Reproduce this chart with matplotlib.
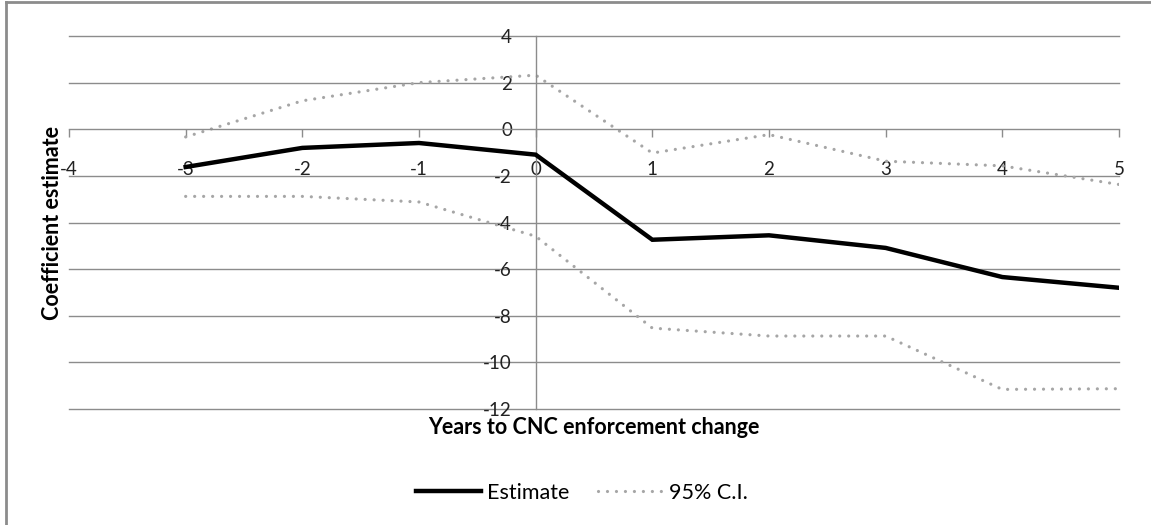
import matplotlib.pyplot as plt
from matplotlib.lines import Line2D

plt.rcParams['font.family'] = ['Lato', 'DejaVu Sans']
plt.rcParams['axes.unicode_minus'] = False

years = [-3, -2, -1, 0, 1, 2, 3, 4, 5]
estimate = [-1.62, -0.80, -0.59, -1.09, -4.74, -4.55, -5.09, -6.34, -6.80]
ci_upper = [-0.33, 1.22, 2.00, 2.32, -1.02, -0.23, -1.37, -1.57, -2.37]
ci_lower = [-2.88, -2.88, -3.12, -4.59, -8.53, -8.87, -8.87, -11.16, -11.13]

x_ticks = [-4, -3, -2, -1, 0, 1, 2, 3, 4, 5]
y_ticks = [-12, -10, -8, -6, -4, -2, 0, 2, 4]

W, H = 1151, 525
fig = plt.figure(figsize=(W / 100, H / 100), dpi=100)
ax = fig.add_axes([69 / W, 1 - 409 / H, (1119 - 69) / W, (409 - 36) / H])

axis_grey = '#8c8c8c'
dot_grey = '#a6a6a6'

ax.set_xlim(-4, 5)
ax.set_ylim(-12, 4)
ax.set_xticks(x_ticks)
ax.set_yticks(y_ticks)

# horizontal gridlines (0 is the x axis itself)
for y in y_ticks:
    if y != 0:
        ax.axhline(y, color=axis_grey, lw=1.0, zorder=0, clip_on=False)

ax.spines['top'].set_visible(False)
ax.spines['right'].set_visible(False)
ax.spines['left'].set_position(('data', 0))
ax.spines['bottom'].set_position(('data', 0))
for s in ('left', 'bottom'):
    ax.spines[s].set_color(axis_grey)
    ax.spines[s].set_linewidth(1.0)

ax.tick_params(axis='x', direction='out', length=6, width=1.0, color=axis_grey,
               pad=17, labelsize=13.5, labelcolor='#222222')
ax.tick_params(axis='y', length=0, pad=17, labelsize=13.5, labelcolor='#222222')

ci_style = dict(color=dot_grey, lw=2.3, linestyle=(0, (0.01, 2.8)),
                dash_capstyle='round')
ax.plot(years, estimate, color='black', lw=3.2, solid_joinstyle='miter',
        label='Estimate', zorder=3)
ax.plot(years, ci_upper, label='95% C.I.', zorder=2, **ci_style)
ax.plot(years, ci_lower, zorder=2, **ci_style)

ax.set_facecolor('none')

fig.text(594 / W, 1 - 428 / H, 'Years to CNC enforcement change',
         ha='center', va='center', fontsize=15.5, fontweight='bold')
fig.text(53 / W, 1 - 223 / H, 'Coefficient estimate', rotation=90,
         ha='center', va='center', fontsize=15.5, fontweight='bold')

handles, labels = ax.get_legend_handles_labels()
fig.legend(handles, labels, loc='center', bbox_to_anchor=(582 / W, 1 - 493 / H),
           ncol=2, frameon=False, fontsize=15.5, handlelength=3.0,
           handletextpad=0.3, columnspacing=1.3)

# chart area border (only left and top edges fall inside the picture)
fig.add_artist(Line2D([6 / W, 6 / W], [0, 1 - 2 / H], transform=fig.transFigure,
                      color=axis_grey, lw=2.0))
fig.add_artist(Line2D([6 / W, 1], [1 - 2 / H, 1 - 2 / H], transform=fig.transFigure,
                      color=axis_grey, lw=2.0))

fig.savefig('out.png', dpi=100)
